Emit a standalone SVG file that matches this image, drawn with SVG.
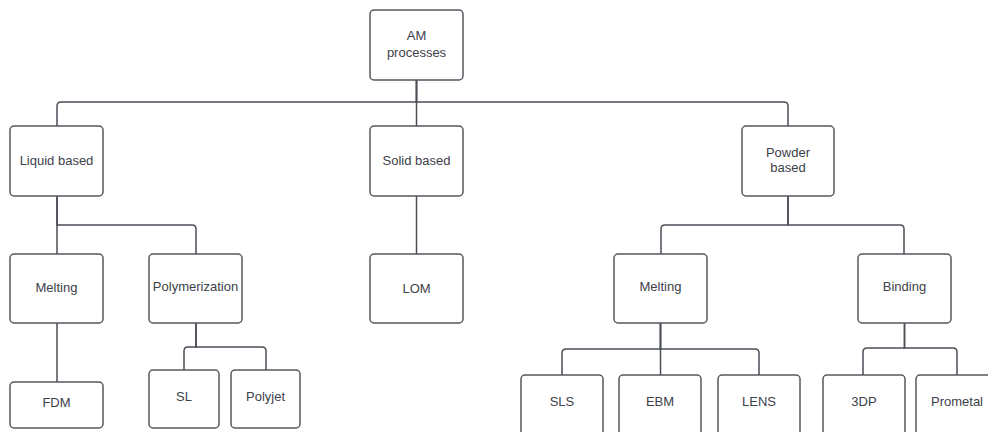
<svg xmlns="http://www.w3.org/2000/svg" width="988" height="432" viewBox="0 0 988 432">
<style>
.box{fill:#fff;stroke:#54585f;stroke-width:1.5}
.t{font-family:"Liberation Sans",Arial,sans-serif;font-size:13px;fill:#3d4149;text-anchor:middle}
.c{fill:none;stroke:#4a4e55;stroke-width:1.5}
</style>
<rect width="988" height="432" fill="#fff"/>
<g id="connectors">
<path class="c" d="M416.5 80 V102 H61 Q57 102 57 106 V126"/>
<path class="c" d="M416.5 80 V126"/>
<path class="c" d="M416.5 80 V102 H784 Q788 102 788 106 V126"/>
<path class="c" d="M57 196 V254"/>
<path class="c" d="M57 196 V225 H192 Q196 225 196 229 V254"/>
<path class="c" d="M57 323 V382"/>
<path class="c" d="M196 323 V347 H188 Q184 347 184 351 V370"/>
<path class="c" d="M196 323 V347 H262 Q266 347 266 351 V370"/>
<path class="c" d="M416.5 196 V254"/>
<path class="c" d="M788 196 V225 H665 Q661 225 661 229 V254"/>
<path class="c" d="M788 196 V225 H900 Q904 225 904 229 V254"/>
<path class="c" d="M660.5 323 V349 H566 Q562 349 562 353 V375"/>
<path class="c" d="M660.5 323 V375"/>
<path class="c" d="M660.5 323 V349 H755 Q759 349 759 353 V375"/>
<path class="c" d="M904.5 323 V348 H867 Q863 348 863 352 V375"/>
<path class="c" d="M904.5 323 V348 H953 Q957 348 957 352 V375"/>
</g>
<g id="am"><rect class="box" x="370" y="10" width="93" height="70" rx="4"/><text class="t" x="416.5" y="40">AM</text><text class="t" x="416.5" y="57">processes</text></g>
<g id="liquid"><rect class="box" x="10" y="126" width="93" height="70" rx="4"/><text class="t" x="56.5" y="165">Liquid based</text></g>
<g id="solid"><rect class="box" x="370" y="126" width="93" height="70" rx="4"/><text class="t" x="416.5" y="165">Solid based</text></g>
<g id="powder"><rect class="box" x="742" y="126" width="92" height="70" rx="4"/><text class="t" x="788" y="157">Powder</text><text class="t" x="788" y="172">based</text></g>
<g id="melting1"><rect class="box" x="10" y="254" width="93" height="69" rx="4"/><text class="t" x="56.5" y="292">Melting</text></g>
<g id="polymerization"><rect class="box" x="149" y="254" width="93" height="69" rx="4"/><text class="t" x="195.5" y="291">Polymerization</text></g>
<g id="lom"><rect class="box" x="370" y="254" width="93" height="69" rx="4"/><text class="t" x="416.5" y="293">LOM</text></g>
<g id="melting2"><rect class="box" x="614" y="254" width="93" height="69" rx="4"/><text class="t" x="660.5" y="291">Melting</text></g>
<g id="binding"><rect class="box" x="858" y="254" width="93" height="69" rx="4"/><text class="t" x="904.5" y="291">Binding</text></g>
<g id="fdm"><rect class="box" x="10" y="382" width="93" height="46" rx="4"/><text class="t" x="56.5" y="407">FDM</text></g>
<g id="sl"><rect class="box" x="149" y="370" width="70" height="58" rx="4"/><text class="t" x="184" y="401">SL</text></g>
<g id="polyjet"><rect class="box" x="231" y="370" width="69" height="58" rx="4"/><text class="t" x="265.5" y="401">Polyjet</text></g>
<g id="sls"><rect class="box" x="521" y="375" width="82" height="70" rx="4"/><text class="t" x="562" y="406">SLS</text></g>
<g id="ebm"><rect class="box" x="619" y="375" width="82" height="70" rx="4"/><text class="t" x="660" y="406">EBM</text></g>
<g id="lens"><rect class="box" x="718" y="375" width="82" height="70" rx="4"/><text class="t" x="759" y="406">LENS</text></g>
<g id="3dp"><rect class="box" x="823" y="375" width="82" height="70" rx="4"/><text class="t" x="864" y="406">3DP</text></g>
<g id="prometal"><rect class="box" x="916" y="375" width="82" height="70" rx="4"/><text class="t" x="957" y="406">Prometal</text></g>
</svg>
